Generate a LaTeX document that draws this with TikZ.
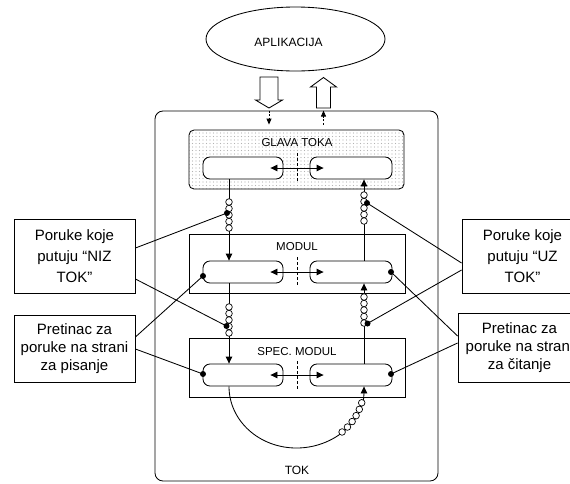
\documentclass[tikz,border=0pt]{standalone}
\usepackage{fontspec}
\setmainfont{Liberation Sans}
\usetikzlibrary{arrows.meta,patterns.meta,shapes.geometric}

\begin{document}
\begin{tikzpicture}[x=1pt,y=-1pt,line width=0.85pt,
  tip/.style={-{Triangle[length=7pt,width=6.5pt]}},
  smalltip/.style={-{Triangle[length=6pt,width=5pt]}},
  both/.style={{Triangle[length=7pt,width=6.5pt]}-{Triangle[length=7pt,width=6.5pt]}},
  modbox/.style={draw,minimum width=216pt,minimum height=59pt,inner sep=0pt},
  pipe/.style={draw,rounded corners=7pt,minimum height=22pt,inner sep=0pt},
  callout/.style={draw,align=center,inner sep=0pt,minimum width=121pt},
  dot/.style={circle,fill,inner sep=0pt,minimum size=6pt},
  ring/.style={draw,fill=white,line width=0.7pt},
  lbl/.style={font=\fontsize{11.5}{13}\selectfont,inner sep=0pt},
  divider/.style={dash pattern=on 3pt off 2pt,line width=0.7pt},
  blockarrow/.style={draw,fill=white,line width=0.85pt},
]
\useasboundingbox (0,0) rectangle (570,483);
\clip (0,0) rectangle (570,483);

% columns of the two flows
\coordinate (cl) at (229,0);
\coordinate (cr) at (364,0);
\coordinate (ca) at (269,0);
\coordinate (cb) at (323.5,0);

% application
\node[draw,ellipse,minimum width=179pt,minimum height=64pt,inner sep=0pt] (app) at (295.5,39) {};
\node[font=\fontsize{12}{14}\selectfont,inner sep=0pt] (apptext) at (288.5,42) {APLIKACIJA};

% block arrows between application and stream
\draw[blockarrow] (260,77) -- (278,77) -- (278,100) -- (282.5,100) -- (269,108)
  -- (255.5,100) -- (260,100) -- cycle;
\draw[blockarrow] (316.5,108) -- (330.5,108) -- (330.5,87) -- (336.5,87) -- (323.5,77.5)
  -- (310.5,87) -- (316.5,87) -- cycle;

% stream container
\node[draw,rounded corners=8pt,minimum width=283pt,minimum height=370pt,inner sep=0pt] (tok) at (296.5,296) {};
\node[lbl,font=\fontsize{12}{14}\selectfont] (toklbl) at (297,470) {TOK};

% stream head
\node[modbox,rounded corners=5pt,minimum width=215pt,
      pattern={Dots[distance=3.5pt,radius=0.6pt]},pattern color=gray!60] (glava) at (296.5,159.5) {};
\node[lbl] (glavalbl) at (297,143) {GLAVA TOKA};
\node[pipe,fill=white,minimum width=80pt] (g1) at (243,168) {};
\node[pipe,fill=white,minimum width=82pt] (g2) at (351,168) {};
\draw[divider] (297,153) -- (297,182);
\draw[both] ([xshift=-13pt]g1.east) -- ([xshift=14pt]g2.west);

% module
\node[modbox] (modul) at (297,263.5) {};
\node[lbl] (modullbl) at (297,247) {MODUL};
\node[pipe,minimum width=80pt] (m1) at (243,272) {};
\node[pipe,minimum width=82pt] (m2) at (351,272) {};
\draw[divider] (297,257) -- (297,286);
\draw[both] ([xshift=-13pt]m1.east) -- ([xshift=14pt]m2.west);

% driver module
\node[modbox] (spec) at (297,367.5) {};
\node[lbl] (speclbl) at (297,352) {SPEC. MODUL};
\node[pipe,minimum width=80pt] (s1) at (243,375) {};
\node[pipe,minimum width=82pt] (s2) at (351,375) {};
\draw[divider] (297,361) -- (297,389);
\draw[both] ([xshift=-13pt]s1.east) -- ([xshift=14pt]s2.west);

% small arrows at the top of the stream
\draw[smalltip,dash pattern=on 2pt off 1.5pt,shorten >=5pt] (tok.north -| ca) -- (glava.north -| ca);
\draw[smalltip,dash pattern=on 2pt off 1.5pt,shorten <=5pt] (glava.north -| cb) -- (tok.north -| cb);

% downstream and upstream flows
\draw[tip] (g1.south -| cl) -- (m1.north -| cl);
\draw[tip] (m2.north -| cr) -- (g2.south -| cr);
\draw[tip] (m1.south -| cl) -- (s1.north -| cl);
\draw[tip] (s2.north -| cr) -- (m2.south -| cr);
\coordinate (loopbot) at (296.5,448);
\draw[tip] (s1.south -| cl) .. controls (229,420.7) and (259.2,448) .. (loopbot)
  .. controls (333.8,448) and (364,420.7) .. (s2.south -| cr);

% queued messages
\foreach \y in {202,208.5,215,221.5,228} \draw[ring] (229,\y) circle (3.3pt);
\foreach \y in {195,201.5,208,214.5,221} \draw[ring] (364,\y) circle (3.3pt);
\foreach \y in {307,313.5,320,326.5,333} \draw[ring] (229,\y) circle (3.3pt);
\foreach \y in {297,303.5,310,316.5,323} \draw[ring] (364,\y) circle (3.3pt);
\foreach \a in {15,21.5,28,34.5,41,47.5}
  \draw[ring] ({296.5+67.5*cos(\a)},{387+61*sin(\a)}) circle (3.3pt);

% attachment points
\node[dot] (dlt) at (227,213) {};
\node[dot] (drt) at (367,203) {};
\node[dot] (dlm) at (226.5,326) {};
\node[dot] (drm) at (367.5,323.5) {};
\node[dot] (dm1) at (203,276) {};
\node[dot] (dm2) at (391,272) {};
\node[dot] (ds1) at (203,374) {};
\node[dot] (ds2) at (391,374) {};

% callouts
\node[callout,minimum height=74pt,font=\fontsize{15}{21.3}\selectfont] (niz) at (74.5,256)
  {Poruke koje\\putuju “NIZ\\TOK”};
\node[callout,minimum height=67pt,font=\fontsize{15}{18.3}\selectfont] (pis) at (74.5,348.5)
  {Pretinac za\\poruke na strani\\za pisanje};
\node[callout,minimum height=74pt,font=\fontsize{15}{21.3}\selectfont] (uz) at (522.5,256)
  {Poruke koje\\putuju “UZ\\TOK”};
\node[callout,minimum width=123pt,minimum height=69pt,font=\fontsize{15}{18.3}\selectfont] (cit) at (519.5,347.5)
  {Pretinac za\\poruke na strani\\za čitanje};

% callout leaders
\draw ([yshift=8pt]niz.east) -- (dlt.center);
\draw ([yshift=-23pt]niz.east) -- (dlm.center);
\draw ([yshift=11.5pt]pis.east) -- (dm1.center);
\draw ([yshift=-0.5pt]pis.east) -- (ds1.center);
\draw ([yshift=-7pt]uz.west) -- (drt.center);
\draw ([yshift=-14pt]uz.west) -- (drm.center);
\draw ([yshift=11.5pt]cit.west) -- (dm2.center);
\draw ([yshift=4.5pt]cit.west) -- (ds2.center);
\end{tikzpicture}
\end{document}
